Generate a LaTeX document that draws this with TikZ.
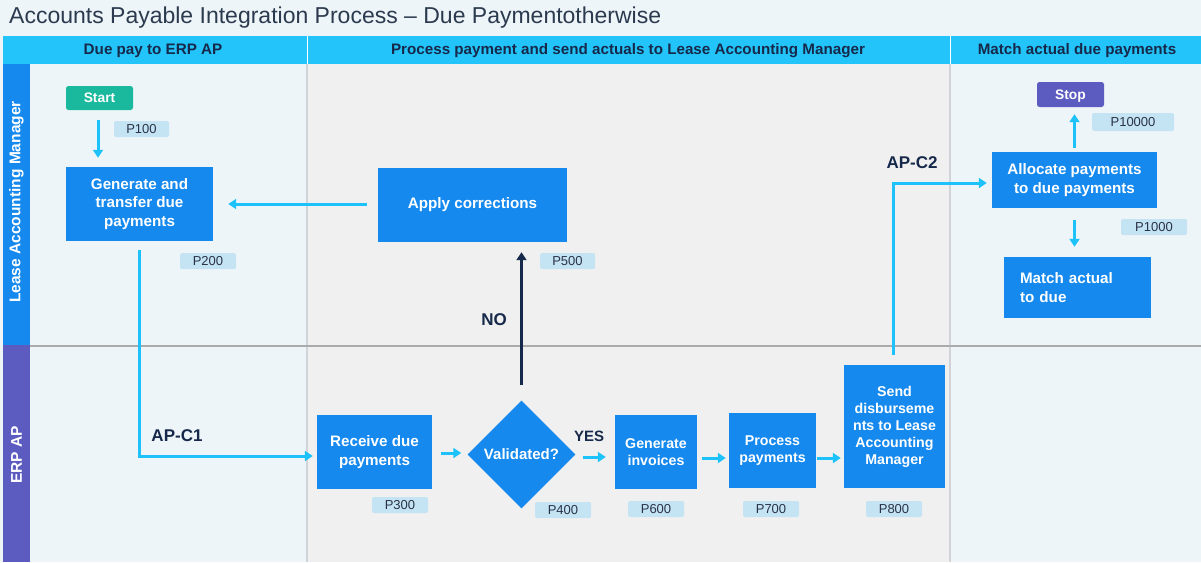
\documentclass[tikz,border=0pt]{standalone}
\usepackage{fontspec}
\setmainfont{Liberation Sans}
\usetikzlibrary{arrows.meta,shapes.geometric}
\definecolor{bgl}{HTML}{EEF5F9}
\definecolor{bgm}{HTML}{F0F0F0}
\definecolor{hdr}{HTML}{22C4FA}
\definecolor{boxb}{HTML}{1589EE}
\definecolor{purp}{HTML}{5B5BC0}
\definecolor{teal}{HTML}{1AB89C}
\definecolor{tagc}{HTML}{C4E3F3}
\definecolor{tagt}{HTML}{2A3346}
\definecolor{navy}{HTML}{16294A}
\definecolor{cyanl}{HTML}{1EC2FA}
\definecolor{titc}{HTML}{2B3A4E}
\definecolor{divl}{HTML}{D0D4D8}
\tikzset{
  x=1pt, y=-1pt,
  proc/.style={fill=boxb, text=white, font=\fontsize{15.2}{18.8}\selectfont\bfseries, align=center, inner sep=2pt},
  procs/.style={proc, font=\fontsize{14.2}{17}\selectfont\bfseries},
  term/.style={rounded corners=2.5pt, text=white, font=\fontsize{13.8}{16}\selectfont\bfseries, inner sep=0pt, text depth=0pt},
  tag/.style={fill=tagc, rounded corners=1.5pt, text=tagt, font=\fontsize{13}{15}\selectfont, inner sep=0pt, text depth=0pt},
  flow/.style={draw=cyanl, line width=3pt, -{Triangle[length=8pt,width=10pt]}},
  lbl/.style={text=navy, font=\fontsize{17}{19}\selectfont\bfseries},
  hdrtxt/.style={text=navy, font=\fontsize{15.2}{18}\selectfont\bfseries},
  lanetxt/.style={text=white, font=\fontsize{15.5}{18}\selectfont\bfseries, rotate=90}
}
\begin{document}
\begin{tikzpicture}
\useasboundingbox (0,0) rectangle (1201,562);
% backgrounds
\fill[bgl] (0,0) rectangle (1201,562);
\fill[bgl] (30,64) rectangle (307,562);
\fill[bgm] (307,64) rectangle (950,562);
\fill[bgl] (950,64) rectangle (1201,562);
\draw[divl, line width=1.5pt] (307,64) -- (307,562);
\draw[divl, line width=1.5pt] (950,64) -- (950,562);
\draw[black!33, line width=1.2pt] (30,346) -- (1201,346);
% header
\fill[hdr] (3,36) rectangle (1201,64);
\draw[white, line width=1pt] (307,36) -- (307,64);
\draw[white, line width=1pt] (950,36) -- (950,64);
\node[hdrtxt] (h1) at (153,50.5) {Due pay to ERP AP};
\node[hdrtxt] (h2) at (628,50.5) {Process payment and send actuals to Lease Accounting Manager};
\node[hdrtxt] (h3) at (1077,50.5) {Match actual due payments};
% lanes
\fill[boxb] (3,64) rectangle (30,345);
\fill[purp] (3,345) rectangle (30,562);
\node[lanetxt] (l1) at (16.5,202) {Lease Accounting Manager};
\node[lanetxt] (l2) at (16.5,455) {ERP AP};
% title
\node[anchor=west, text=titc, font=\fontsize{23}{26}\selectfont, inner sep=0pt] (title) at (9,17.5) {Accounts Payable Integration Process – Due Paymentotherwise};
% nodes
\node[term, fill=teal, minimum width=67pt, minimum height=24pt] (start) at (99.5,98) {Start};
\node[tag, minimum width=55pt, minimum height=16pt] (p100) at (141.5,129) {P100};
\node[proc, minimum width=147pt, minimum height=74pt] (gen) at (139.5,204) {Generate and\\transfer due\\payments};
\node[tag, minimum width=56pt, minimum height=16pt] (p200) at (208,261) {P200};
\node[proc, minimum width=189pt, minimum height=74pt] (corr) at (472.5,205) {Apply corrections};
\node[tag, minimum width=55pt, minimum height=16pt] (p500) at (567.5,261) {P500};
\node[proc, minimum width=115pt, minimum height=74pt] (recv) at (374.5,452) {Receive due\\payments};
\node[tag, minimum width=56pt, minimum height=16pt] (p300) at (400,505) {P300};
\node[diamond, fill=boxb, text=white, font=\fontsize{15}{18}\selectfont\bfseries, minimum width=108pt, minimum height=108pt, inner sep=0pt] (val) at (521.5,454.5) {Validated?};
\node[tag, minimum width=56pt, minimum height=16pt] (p400) at (563,510) {P400};
\node[procs, minimum width=82pt, minimum height=74pt] (inv) at (656,452) {Generate\\invoices};
\node[tag, minimum width=56pt, minimum height=16pt] (p600) at (656,509) {P600};
\node[procs, minimum width=87pt, minimum height=75pt] (prc) at (772.5,450.5) {Process\\payments};
\node[tag, minimum width=56pt, minimum height=16pt] (p700) at (771,509) {P700};
\node[procs, minimum width=101pt, minimum height=123pt] (send) at (894.5,426.5) {Send\\disburseme\\nts to Lease\\Accounting\\Manager};
\node[tag, minimum width=56pt, minimum height=16pt] (p800) at (894,509) {P800};
\node[proc, minimum width=165pt, minimum height=56pt] (alloc) at (1074.5,180) {Allocate payments\\to due payments};
\node[term, fill=purp, minimum width=67pt, minimum height=25pt] (stop) at (1070.5,94.5) {Stop};
\node[tag, minimum width=82pt, minimum height=18pt] (p10000) at (1133,122) {P10000};
\node[tag, minimum width=66pt, minimum height=16pt] (p1000) at (1154,227) {P1000};
\node[proc, align=left, text width=115pt, inner xsep=16pt, minimum height=61pt] (match) at (1077.5,287.5) {Match actual\\to due};
% labels
\node[lbl] (apc1) at (177,436) {AP-C1};
\node[lbl] (apc2) at (912,163) {AP-C2};
\node[lbl] (no) at (494,320) {NO};
\node[lbl, font=\fontsize{15}{17}\selectfont\bfseries] (yes) at (589,436) {YES};
% connectors
\draw[flow, shorten <=10pt, shorten >=9pt] ([xshift=-1.5pt]start.south) -- ([xshift=-1.5pt]start.south |- gen.north);
\draw[flow, shorten <=11pt, shorten >=15pt] (corr.west |- gen.east) -- (gen.east);
\draw[flow, shorten <=9pt, shorten >=4pt] (gen.south) |- ([yshift=-4pt]recv.west);
\draw[flow, shorten <=9pt, shorten >=6pt] ([yshift=-1pt]recv.east) -- ([yshift=-1pt]recv.east -| val.west);
\draw[navy, line width=3pt, -{Triangle[length=8pt,width=10pt]}, shorten <=15pt, shorten >=10pt] (val.north) -- (val.north |- corr.south);
\draw[flow, shorten <=7pt, shorten >=9pt] ([yshift=-2.5pt]val.east) -- ([yshift=-2.5pt]val.east -| inv.west);
\draw[flow, shorten <=5pt, shorten >=3pt] ([yshift=-6pt]inv.east) -- ([yshift=-6pt]inv.east -| prc.west);
\draw[flow, shorten <=1pt, shorten >=3pt] ([yshift=-7.5pt]prc.east) -- ([yshift=-7.5pt]prc.east -| send.west);
\draw[flow, shorten <=10pt, shorten >=5pt] ([xshift=-1.5pt]send.north) |- ([yshift=-3pt]alloc.west);
\draw[flow, shorten <=4pt, shorten >=7pt] (alloc.north) -- (alloc.north |- stop.south);
\draw[flow, shorten <=12pt, shorten >=10pt] (alloc.south) -- (alloc.south |- match.north);
\end{tikzpicture}
\end{document}
